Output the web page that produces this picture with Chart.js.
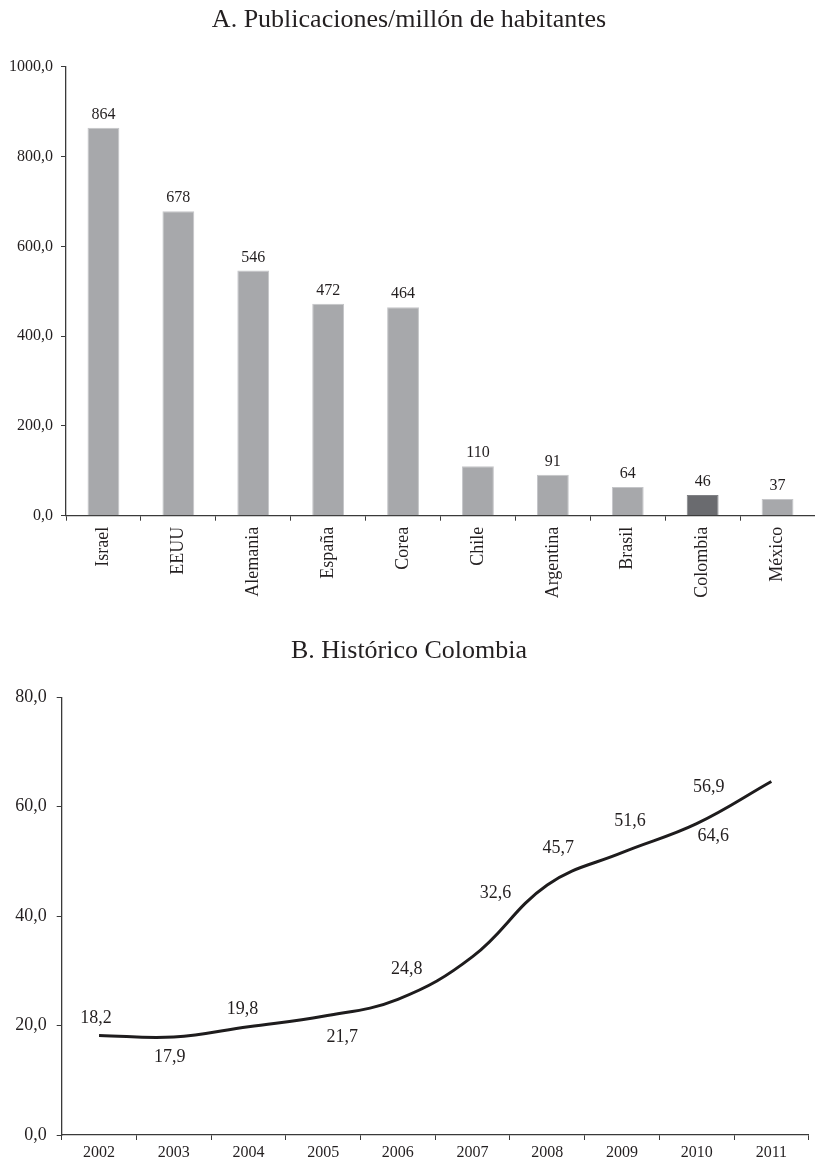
<!DOCTYPE html>
<html>
<head>
<meta charset="utf-8">
<script src="https://cdn.jsdelivr.net/npm/chart.js@4.4.1/dist/chart.umd.min.js"></script>
<style>
  html, body { margin: 0; padding: 0; background: #ffffff; }
  body { width: 815px; height: 1167px; position: relative; overflow: hidden; }
  #wrapA { position: absolute; left: 0; top: 0; width: 815px; height: 620px; }
  #wrapB { position: absolute; left: 0; top: 620px; width: 815px; height: 547px; }
</style>
</head>
<body>
<div id="wrapA"><canvas id="chartA" width="815" height="620"></canvas></div>
<div id="wrapB"><canvas id="chartB" width="815" height="547"></canvas></div>
<script>
// ---- Data ----
const titleA = 'A. Publicaciones/millón de habitantes';
const titleB = 'B. Histórico Colombia';
const countries = ['Israel', 'EEUU', 'Alemania', 'España', 'Corea', 'Chile', 'Argentina', 'Brasil', 'Colombia', 'México'];
const pubsPerMillion = [864, 678, 546, 472, 464, 110, 91, 64, 46, 37];
const highlightCountry = 'Colombia';
const years = ['2002', '2003', '2004', '2005', '2006', '2007', '2008', '2009', '2010', '2011'];
const colombiaValues = [18.2, 17.9, 19.8, 21.7, 24.8, 32.6, 45.7, 51.6, 56.9, 64.6];

// ---- Style ----
const TEXT = '#231f20';
const AXIS = '#3a3a3a';
const BAR = '#a7a8ab';
const BAR_HI = '#6a6b6f';
const SERIF = '"Liberation Serif", "DejaVu Serif", serif';
// label offsets (dx, dy) from each point to its label centre, bottom chart
const lineLabelOffsets = [[-3,-17],[-4,20],[-6,-17],[19,21],[9,-30],[23,-63],[11,-37],[8,-31],[12,-36],[-58,55]];

const fmt1 = v => Number(v).toFixed(1).replace('.', ',');

function titlePlugin(text, cx, cy) {
  return {
    id: 'ttl',
    afterDraw(chart) {
      const ctx = chart.ctx;
      ctx.save();
      ctx.font = '26px ' + SERIF;
      ctx.fillStyle = TEXT;
      ctx.textAlign = 'center';
      ctx.textBaseline = 'middle';
      ctx.fillText(text, cx, cy);
      ctx.restore();
    }
  };
}

const barLabels = {
  id: 'barLabels',
  afterDatasetsDraw(chart) {
    const ctx = chart.ctx;
    const meta = chart.getDatasetMeta(0);
    ctx.save();
    ctx.font = '16px ' + SERIF;
    ctx.fillStyle = TEXT;
    ctx.textAlign = 'center';
    ctx.textBaseline = 'alphabetic';
    meta.data.forEach((el, i) => {
      ctx.fillText(String(pubsPerMillion[i]), el.x, el.y - 9);
    });
    ctx.restore();
  }
};

const lineLabels = {
  id: 'lineLabels',
  afterDatasetsDraw(chart) {
    const ctx = chart.ctx;
    const meta = chart.getDatasetMeta(0);
    ctx.save();
    ctx.font = '18px ' + SERIF;
    ctx.fillStyle = TEXT;
    ctx.textAlign = 'center';
    ctx.textBaseline = 'middle';
    meta.data.forEach((el, i) => {
      const o = lineLabelOffsets[i];
      ctx.fillText(fmt1(colombiaValues[i]), el.x + o[0], el.y + o[1]);
    });
    ctx.restore();
  }
};

// ---- Chart A ----
new Chart(document.getElementById('chartA'), {
  type: 'bar',
  data: {
    labels: countries,
    datasets: [{
      data: pubsPerMillion,
      backgroundColor: countries.map(c => c === highlightCountry ? BAR_HI : BAR),
      borderColor: countries.map(c => c === highlightCountry ? '#808185' : '#c4c5c8'),
      borderWidth: 1,
      categoryPercentage: 1,
      barPercentage: 0.425
    }]
  },
  options: {
    responsive: false,
    animation: false,
    devicePixelRatio: 1,
    layout: { padding: { top: 66.7, right: 0, left: 0, bottom: 0 } },
    plugins: { legend: { display: false }, tooltip: { enabled: false }, title: { display: false } },
    scales: {
      x: {
        offset: true,
        grid: { display: true, drawOnChartArea: false, drawTicks: true, tickLength: 5, color: AXIS, offset: true },
        border: { display: true, color: AXIS, width: 1.3 },
        ticks: { color: TEXT, font: { family: SERIF, size: 18 }, minRotation: 90, maxRotation: 90, padding: 6, autoSkip: false },
        afterFit(s) { s.height = 104.3; }
      },
      y: {
        min: 0, max: 1000,
        ticks: { stepSize: 200, color: TEXT, font: { family: SERIF, size: 16 }, padding: 8, callback: v => fmt1(v) },
        grid: { display: true, drawOnChartArea: false, drawTicks: true, tickLength: 5, color: AXIS },
        border: { display: true, color: AXIS, width: 1.3 },
        afterFit(s) { s.width = 66; }
      }
    }
  },
  plugins: [barLabels, titlePlugin(titleA, 409, 20)]
});

// ---- Chart B ----
new Chart(document.getElementById('chartB'), {
  type: 'line',
  data: {
    labels: years,
    datasets: [{
      data: colombiaValues,
      borderColor: '#1e1c1d',
      borderWidth: 3,
      pointRadius: 0,
      fill: false,
      tension: 0.4,
      borderCapStyle: 'butt'
    }]
  },
  options: {
    responsive: false,
    animation: false,
    devicePixelRatio: 1,
    layout: { padding: { top: 77.3, right: 6.3, left: 0, bottom: 0 } },
    plugins: { legend: { display: false }, tooltip: { enabled: false }, title: { display: false } },
    scales: {
      x: {
        offset: true,
        grid: { display: true, drawOnChartArea: false, drawTicks: true, tickLength: 5, color: AXIS, offset: true },
        border: { display: true, color: AXIS, width: 1.3 },
        ticks: { color: TEXT, font: { family: SERIF, size: 16 }, padding: 3, maxRotation: 0, autoSkip: false },
        afterFit(s) { s.height = 32; }
      },
      y: {
        min: 0, max: 80,
        ticks: { stepSize: 20, color: TEXT, font: { family: SERIF, size: 18 }, padding: 10, callback: v => fmt1(v) },
        grid: { display: true, drawOnChartArea: false, drawTicks: true, tickLength: 5, color: AXIS },
        border: { display: true, color: AXIS, width: 1.3 },
        afterFit(s) { s.width = 61.7; }
      }
    }
  },
  plugins: [lineLabels, titlePlugin(titleB, 409, 31)]
});
</script>
</body>
</html>
